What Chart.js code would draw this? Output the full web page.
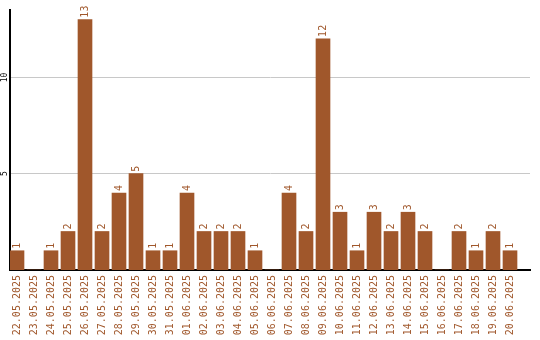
<!DOCTYPE html>
<html>
<head>
<meta charset="utf-8">
<script src="https://cdn.jsdelivr.net/npm/chart.js@4"></script>
<style>
  html, body { margin: 0; padding: 0; background: #fff; }
  #wrap { width: 540px; height: 340px; }
</style>
</head>
<body>
<div id="wrap"><canvas id="grafico"></canvas></div>
<script>
const dias = ['22.05.2025', '23.05.2025', '24.05.2025', '25.05.2025', '26.05.2025', '27.05.2025',
  '28.05.2025', '29.05.2025', '30.05.2025', '31.05.2025', '01.06.2025', '02.06.2025',
  '03.06.2025', '04.06.2025', '05.06.2025', '06.06.2025', '07.06.2025', '08.06.2025',
  '09.06.2025', '10.06.2025', '11.06.2025', '12.06.2025', '13.06.2025', '14.06.2025',
  '15.06.2025', '16.06.2025', '17.06.2025', '18.06.2025', '19.06.2025', '20.06.2025'];
const contagem = [1, 0, 1, 2, 13, 2, 4, 5, 1, 1, 4, 2, 2, 2, 1, 0, 4, 2, 12, 3, 1, 3, 2, 3, 2, 0, 2, 1, 2, 1];
const yTicks = [5, 10];

const COR = '#a0572b';
const FONTE = "'DejaVu Sans Mono', monospace";

// rotated value labels above each bar + rotated y tick labels
const rotulos = {
    id: 'rotulos',
    afterDatasetsDraw(chart) {
        const ctx = chart.ctx;
        const meta = chart.getDatasetMeta(0);
        ctx.save();
        ctx.fillStyle = COR;
        ctx.font = '10px ' + FONTE;
        ctx.textAlign = 'left';
        ctx.textBaseline = 'middle';
        meta.data.forEach((bar, i) => {
            if (!contagem[i]) return;
            ctx.save();
            ctx.translate(bar.x, bar.y - 2);
            ctx.rotate(-Math.PI / 2);
            ctx.fillText(String(contagem[i]), 0, 0);
            ctx.restore();
        });
        const y = chart.scales.y;
        ctx.fillStyle = '#000';
        ctx.font = '8px ' + FONTE;
        ctx.textAlign = 'center';
        yTicks.forEach(v => {
            ctx.save();
            ctx.translate(5, y.getPixelForValue(v));
            ctx.rotate(-Math.PI / 2);
            ctx.fillText(String(v), 0, 0);
            ctx.restore();
        });
        ctx.restore();
    }
};

new Chart(document.getElementById('grafico'), {
    type: 'bar',
    data: {
        datasets: [{
            data: contagem.map((v, i) => ({ x: i, y: v })),
            backgroundColor: COR,
            barThickness: 14
        }]
    },
    options: {
        responsive: true,
        maintainAspectRatio: false,
        animation: false,
        layout: { padding: { top: 10, right: 10, left: 0, bottom: 0 } },
        plugins: { legend: { display: false }, tooltip: { enabled: false } },
        scales: {
            x: {
                type: 'linear',
                offset: false,
                min: -7 / 17,
                max: 513 / 17,
                grid: { display: false, drawTicks: false },
                border: { color: '#000', width: 2 },
                afterBuildTicks: s => { s.ticks = dias.map((_, i) => ({ value: i })); },
                afterFit: s => { s.height = 70; },
                ticks: {
                    autoSkip: false,
                    minRotation: 90,
                    maxRotation: 90,
                    padding: 5,
                    color: COR,
                    font: { family: FONTE, size: 10 },
                    callback: v => dias[v]
                }
            },
            y: {
                min: 0,
                max: 13.5,
                grid: { color: '#c8c8c8', lineWidth: 1, drawTicks: false },
                border: { color: '#000', width: 2 },
                afterBuildTicks: s => { s.ticks = yTicks.map(v => ({ value: v })); },
                afterFit: s => { s.width = 10; },
                ticks: { display: false }
            }
        }
    },
    plugins: [rotulos]
});
</script>
</body>
</html>
